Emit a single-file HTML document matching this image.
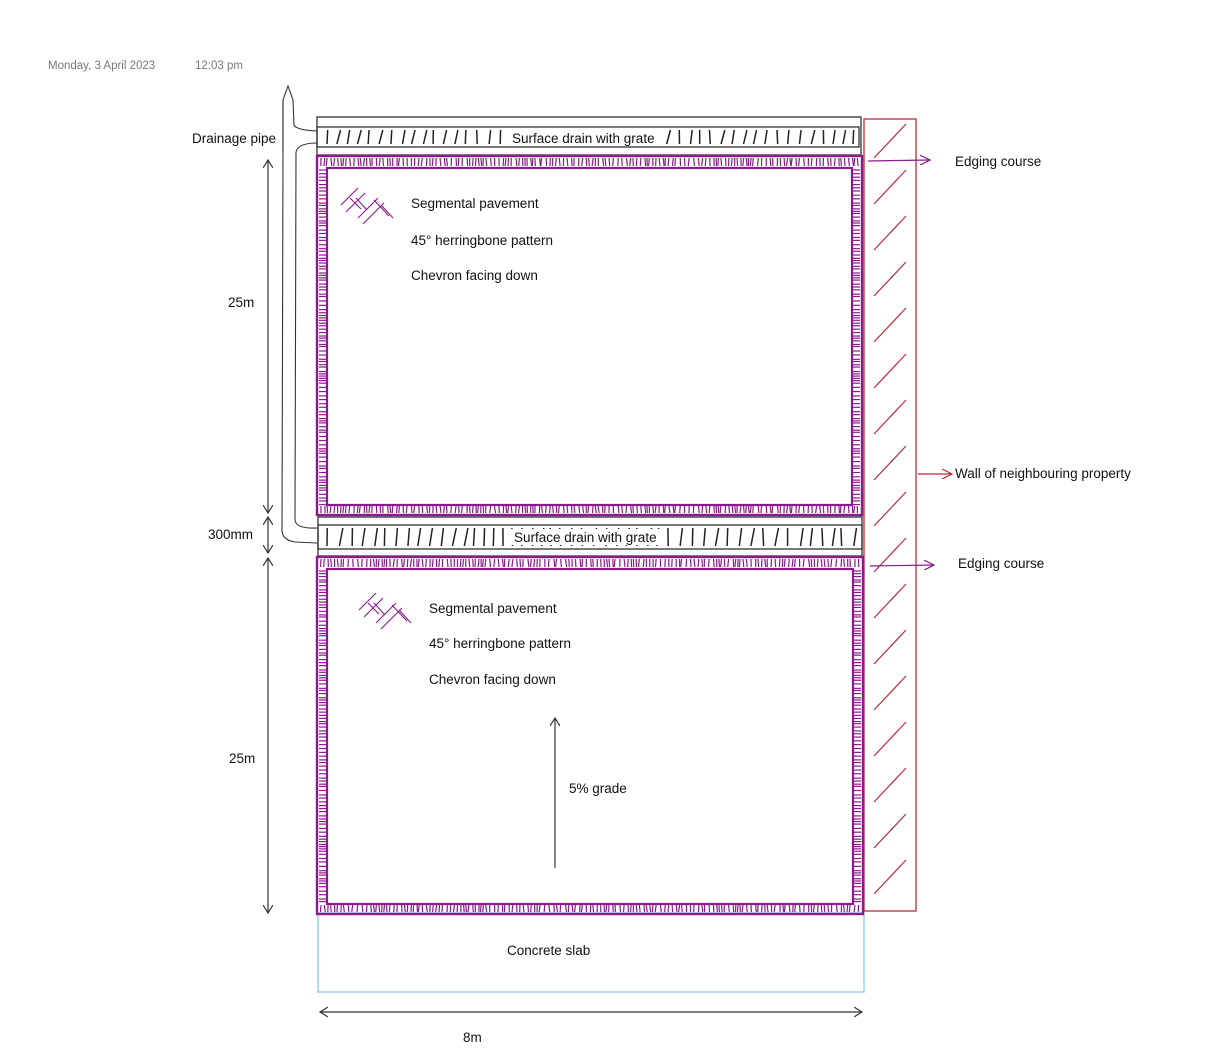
<!DOCTYPE html>
<html><head><meta charset="utf-8"><style>
html,body{margin:0;padding:0;background:#fff;width:1216px;height:1056px;overflow:hidden}
svg{display:block}
text{font-family:"Liberation Sans",sans-serif;font-size:13.5px;fill:#111}
</style></head><body>
<svg id="s" width="1216" height="1056" viewBox="0 0 1216 1056" xmlns="http://www.w3.org/2000/svg">
<defs>
<marker id="ab" markerWidth="10" markerHeight="10" refX="8" refY="5" orient="auto-start-reverse" markerUnits="userSpaceOnUse"><path d="M0,0 L8,5 L0,10" fill="none" stroke="#333" stroke-width="1.2"/></marker>
<marker id="ap" markerWidth="12" markerHeight="10" refX="10" refY="5" orient="auto" markerUnits="userSpaceOnUse"><path d="M0,0 L10,5 L0,10" fill="none" stroke="#8b1a8b" stroke-width="1.2"/></marker>
<marker id="ar" markerWidth="12" markerHeight="10" refX="10" refY="5" orient="auto" markerUnits="userSpaceOnUse"><path d="M0,0 L10,5 L0,10" fill="none" stroke="#c0283c" stroke-width="1.2"/></marker>
</defs>
<text x="48" y="69" style="font-size:11.5px;fill:#777">Monday, 3 April 2023</text>
<text x="195" y="69" style="font-size:11.5px;fill:#777">12:03 pm</text>

<rect x="318" y="913" width="546" height="79" fill="none" stroke="#8cc8ea" stroke-width="1.3"/>
<text x="507" y="955">Concrete slab</text>

<rect x="864" y="119" width="52" height="792" fill="none" stroke="#c0283c" stroke-width="1.3"/>
<g id="wall" stroke="#c0283c" stroke-width="1.2" fill="none"></g>

<rect x="317" y="117" width="544" height="38" fill="none" stroke="#333" stroke-width="1.3"/>
<rect x="317" y="127" width="542" height="20" fill="none" stroke="#333" stroke-width="1.3"/>
<g id="d1" stroke="#222" stroke-width="1.5"></g>
<rect x="508" y="129" width="152" height="16" fill="#fff"/>
<text x="512" y="143">Surface drain with grate</text>

<rect x="318" y="517" width="544" height="39" fill="none" stroke="#333" stroke-width="1.3"/>
<rect x="318" y="525" width="544" height="24" fill="none" stroke="#333" stroke-width="1.3"/>
<g id="d2" stroke="#222" stroke-width="1.5"></g>
<rect x="510" y="529" width="152" height="16" fill="#fff"/>
<text x="514" y="542">Surface drain with grate</text>

<g id="pv" stroke="#8b1a8b" fill="none"></g>

<g stroke="#8b1a8b" stroke-width="1.1" fill="none">
<path d="M341,205 L358,188 M346,212 L365,193 M350,198 L361,209 M356,198 L367,210 M358,218 L378,198 M363,224 L384,203 M374,200 L389,216 M381,205 L393,218"/>
<path d="M359,610 L376,593 M364,617 L383,598 M368,603 L379,614 M374,603 L385,615 M376,623 L396,603 M381,629 L402,608 M392,605 L407,621 M399,610 L411,623"/>
</g>
<text x="411" y="208">Segmental pavement</text>
<text x="411" y="245">45° herringbone pattern</text>
<text x="411" y="280">Chevron facing down</text>
<text x="429" y="613">Segmental pavement</text>
<text x="429" y="648">45° herringbone pattern</text>
<text x="429" y="684">Chevron facing down</text>

<line x1="555" y1="868" x2="555" y2="718" stroke="#333" stroke-width="1.2" marker-end="url(#ab)"/>
<text x="569" y="793">5% grade</text>

<g stroke="#333" stroke-width="1.2" fill="none">
<line x1="268" y1="160" x2="268" y2="513" marker-start="url(#ab)" marker-end="url(#ab)"/>
<line x1="268" y1="517" x2="268" y2="553" marker-start="url(#ab)" marker-end="url(#ab)"/>
<line x1="268" y1="558" x2="268" y2="913" marker-start="url(#ab)" marker-end="url(#ab)"/>
<line x1="320" y1="1012" x2="862" y2="1012" marker-start="url(#ab)" marker-end="url(#ab)"/>
</g>
<text x="228" y="307">25m</text>
<text x="208" y="539">300mm</text>
<text x="229" y="763">25m</text>
<text x="463" y="1042">8m</text>

<g stroke="#333" stroke-width="1.1" fill="none">
<path d="M283,150 L283,100 L288,86 L293,100 L294,125 Q296,130 317,131"/>
<path d="M283,100 L283,150 L282,530 Q282,540 295,542 L317,543"/>
<path d="M317,143 Q298,143 296,152 L295,520 Q296,529 317,528"/>
</g>
<text x="192" y="143">Drainage pipe</text>

<line x1="868" y1="161" x2="930" y2="160" stroke="#8b1a8b" stroke-width="1.2" marker-end="url(#ap)"/>
<text x="955" y="166">Edging course</text>
<line x1="870" y1="566" x2="934" y2="565" stroke="#8b1a8b" stroke-width="1.2" marker-end="url(#ap)"/>
<text x="958" y="568">Edging course</text>
<line x1="918" y1="474" x2="952" y2="474" stroke="#c0283c" stroke-width="1.2" marker-end="url(#ar)"/>
<text x="955" y="478">Wall of neighbouring property</text>
</svg>
<script>
var NS="http://www.w3.org/2000/svg";
function ln(g,x1,y1,x2,y2,w){var l=document.createElementNS(NS,"line");l.setAttribute("x1",x1);l.setAttribute("y1",y1);l.setAttribute("x2",x2);l.setAttribute("y2",y2);if(w)l.setAttribute("stroke-width",w);g.appendChild(l);}
function rc(g,x,y,w,h,sw){var r=document.createElementNS(NS,"rect");r.setAttribute("x",x);r.setAttribute("y",y);r.setAttribute("width",w);r.setAttribute("height",h);r.setAttribute("stroke-width",sw);g.appendChild(r);}
var seed=3;function R(){seed=(seed*9301+49297)%233280;return seed/233280;}
function drain(id,y1,y2){var g=document.getElementById(id);for(var x=327;x<855;x+=9+R()*4){var d=(R()-0.2)*5;ln(g,x+d,y1+2,x,y2-2);}}
drain("d1",128,146);drain("d2",526,548);
var pv=document.getElementById("pv");
function pave(x1,y1,x2,y2){
 rc(pv,x1,y1,x2-x1,y2-y1,2.4);
 rc(pv,x1+10,y1+12,x2-x1-20,y2-y1-22,2.2);
 for(var x=x1+4;x<x2-2;x+=2+R()*3){ln(pv,x,y1+2,x+(R()-0.5)*2,y1+10,1.2);ln(pv,x,y2-9,x+(R()-0.5)*2,y2-2,1.2);}
 for(var y=y1+14;y<y2-10;y+=2+R()*2.5){ln(pv,x1+2,y,x1+9,y,1.2);ln(pv,x2-9,y,x2-2,y,1.2);}
}
pave(317,156,862,515);pave(317,557,863,914);
var w=document.getElementById("wall");
for(var y=122;y<870;y+=46){ln(w,874,y+36,906,y+2);}
</script>
</body></html>
